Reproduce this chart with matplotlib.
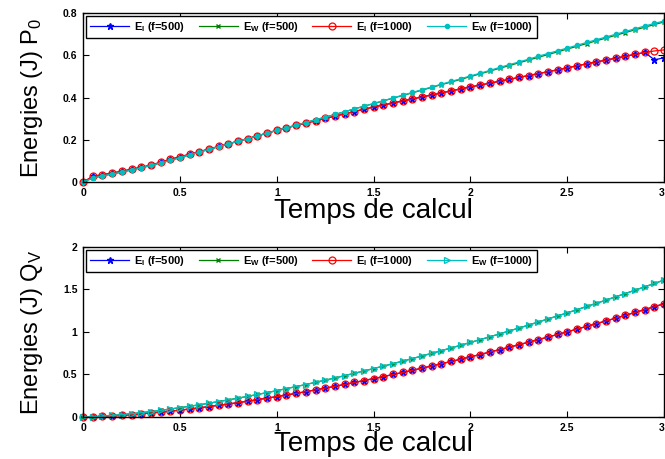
import matplotlib
matplotlib.use("Agg")
import matplotlib.pyplot as plt
import numpy as np
from matplotlib.ticker import FuncFormatter

plt.rcParams['font.family'] = ['Liberation Sans', 'DejaVu Sans']
plt.rcParams['mathtext.fontset'] = 'custom'
plt.rcParams['mathtext.rm'] = 'Liberation Sans'
plt.rcParams['mathtext.bf'] = 'Liberation Sans:bold'
plt.rcParams['mathtext.it'] = 'Liberation Sans:italic'

# time axis (s)
t = [round(0.05 * k, 2) for k in range(61)]

# ---- top panel : P0 ----
p0_EI_500 = [0.000, 0.028, 0.035, 0.044, 0.051, 0.062, 0.070, 0.081, 0.094, 0.108,
             0.120, 0.132, 0.144, 0.157, 0.169, 0.181, 0.194, 0.206, 0.219, 0.232,
             0.245, 0.257, 0.268, 0.279, 0.290, 0.301, 0.312, 0.323, 0.334, 0.345,
             0.355, 0.365, 0.374, 0.384, 0.393, 0.403, 0.412, 0.422, 0.431, 0.441,
             0.450, 0.459, 0.468, 0.477, 0.486, 0.495, 0.504, 0.513, 0.522, 0.531,
             0.540, 0.550, 0.559, 0.568, 0.577, 0.586, 0.595, 0.604, 0.613, 0.578,
             0.588]
p0_EI_1000 = [0.000, 0.028, 0.035, 0.044, 0.051, 0.062, 0.070, 0.081, 0.094, 0.108,
              0.120, 0.132, 0.144, 0.157, 0.169, 0.181, 0.194, 0.206, 0.219, 0.232,
              0.245, 0.257, 0.268, 0.279, 0.290, 0.301, 0.312, 0.323, 0.334, 0.345,
              0.355, 0.365, 0.374, 0.384, 0.393, 0.403, 0.412, 0.422, 0.431, 0.441,
              0.450, 0.459, 0.468, 0.477, 0.486, 0.495, 0.504, 0.513, 0.522, 0.531,
              0.540, 0.550, 0.559, 0.568, 0.577, 0.586, 0.595, 0.604, 0.613, 0.620,
              0.625]
p0_EW_500 = [0.000, 0.020, 0.030, 0.039, 0.048, 0.058, 0.068, 0.079, 0.091, 0.103,
             0.116, 0.129, 0.142, 0.155, 0.168, 0.181, 0.194, 0.206, 0.219, 0.232,
             0.245, 0.257, 0.270, 0.282, 0.295, 0.307, 0.320, 0.333, 0.346, 0.359,
             0.371, 0.384, 0.397, 0.410, 0.422, 0.435, 0.448, 0.461, 0.473, 0.486,
             0.499, 0.512, 0.525, 0.538, 0.551, 0.564, 0.577, 0.590, 0.603, 0.616,
             0.629, 0.642, 0.655, 0.668, 0.681, 0.694, 0.707, 0.720, 0.732, 0.745,
             0.757]
p0_EW_1000 = [0.000, 0.020, 0.030, 0.039, 0.048, 0.058, 0.068, 0.079, 0.091, 0.103,
              0.116, 0.129, 0.142, 0.155, 0.168, 0.181, 0.194, 0.206, 0.219, 0.232,
              0.245, 0.257, 0.270, 0.282, 0.295, 0.307, 0.320, 0.333, 0.346, 0.359,
              0.372, 0.385, 0.398, 0.411, 0.424, 0.437, 0.450, 0.463, 0.476, 0.489,
              0.502, 0.515, 0.528, 0.542, 0.555, 0.568, 0.581, 0.595, 0.608, 0.621,
              0.634, 0.647, 0.660, 0.673, 0.686, 0.699, 0.712, 0.725, 0.738, 0.750,
              0.762]

# ---- bottom panel : Qv ----
qv_EI_500 = [0.000, 0.002, 0.007, 0.012, 0.019, 0.028, 0.037, 0.047, 0.057, 0.069,
             0.081, 0.094, 0.108, 0.123, 0.138, 0.153, 0.169, 0.186, 0.204, 0.222,
             0.240, 0.259, 0.278, 0.298, 0.319, 0.340, 0.361, 0.383, 0.406, 0.429,
             0.452, 0.475, 0.500, 0.524, 0.549, 0.575, 0.600, 0.627, 0.653, 0.680,
             0.708, 0.735, 0.764, 0.792, 0.821, 0.850, 0.880, 0.910, 0.940, 0.971,
             1.002, 1.034, 1.066, 1.098, 1.130, 1.163, 1.196, 1.230, 1.263, 1.298,
             1.332]
qv_EI_1000 = list(qv_EI_500)
qv_EW_500 = [0.000, 0.003, 0.010, 0.018, 0.028, 0.039, 0.051, 0.064, 0.078, 0.094,
             0.110, 0.126, 0.144, 0.162, 0.182, 0.201, 0.222, 0.243, 0.265, 0.287,
             0.310, 0.334, 0.358, 0.382, 0.408, 0.433, 0.459, 0.486, 0.514, 0.541,
             0.570, 0.598, 0.627, 0.657, 0.687, 0.718, 0.749, 0.780, 0.812, 0.844,
             0.877, 0.910, 0.943, 0.977, 1.012, 1.046, 1.081, 1.117, 1.153, 1.189,
             1.225, 1.262, 1.300, 1.337, 1.375, 1.414, 1.452, 1.492, 1.531, 1.571,
             1.611]
qv_EW_1000 = list(qv_EW_500)

xticks = [0, 0.5, 1, 1.5, 2, 2.5, 3]
yticks_top = [0, 0.2, 0.4, 0.6, 0.8]
yticks_bot = [0, 0.5, 1, 1.5, 2]

labels = [r'E$_\mathbf{I}$ (f=500)', r'E$_\mathbf{W}$ (f=500)',
          r'E$_\mathbf{I}$ (f=1000)', r'E$_\mathbf{W}$ (f=1000)']

BLUE = '#0000ff'
GREEN = '#008000'
RED = '#ff0000'
CYAN = '#00bfbf'

fig = plt.figure(figsize=(6.65, 4.59), dpi=100)
ax1 = fig.add_axes([0.125, 0.603, 0.8737, 0.369])
ax2 = fig.add_axes([0.125, 0.0915, 0.8737, 0.3705])

fmt = FuncFormatter(lambda v, p: ('%g' % v))


def style(ax, yticks, ylabel, xlabelpad):
    ax.set_xlim(0, 3)
    ax.set_ylim(yticks[0], yticks[-1])
    ax.set_xticks(xticks)
    ax.set_yticks(yticks)
    ax.xaxis.set_major_formatter(fmt)
    ax.yaxis.set_major_formatter(fmt)
    ax.tick_params(direction='in', top=True, right=True, length=4, width=0.8,
                   labelsize=7.5, pad=4)
    for lab in ax.get_xticklabels() + ax.get_yticklabels():
        lab.set_fontweight('bold')
    ax.get_xticklabels()[-1].set_horizontalalignment('right')
    for s in ax.spines.values():
        s.set_linewidth(1.0)
    ax.set_xlabel('Temps de calcul', fontsize=20, labelpad=xlabelpad)
    ax.set_ylabel(ylabel, fontsize=17, labelpad=13)
    leg = ax.legend(loc='upper left', ncol=4, frameon=True,
                    fancybox=False, edgecolor='black', framealpha=1,
                    handlelength=3.5, handletextpad=0.45, columnspacing=1.25,
                    borderaxespad=0.3, borderpad=0.35,
                    prop={'weight': 'bold', 'size': 8})
    leg.get_frame().set_linewidth(1.0)


lw = 0.9
ax1.plot(t, p0_EI_500, color=BLUE, marker='*', ms=4.5, lw=lw, label=labels[0])
ax1.plot(t, p0_EW_500, color=GREEN, marker='x', ms=3.5, lw=lw, label=labels[1])
ax1.plot(t, p0_EI_1000, color=RED, marker='o', ms=5, mfc='none', mew=0.9, lw=lw, label=labels[2])
ax1.plot(t, p0_EW_1000, color=CYAN, marker='.', ms=6, lw=lw, label=labels[3])
style(ax1, yticks_top, r'Energies (J) P$_0$', 0)

ax2.plot(t, qv_EI_500, color=BLUE, marker='*', ms=4.5, lw=lw, label=labels[0])
ax2.plot(t, qv_EW_500, color=GREEN, marker='x', ms=3.5, lw=lw, label=labels[1])
ax2.plot(t, qv_EI_1000, color=RED, marker='o', ms=5, mfc='none', mew=0.9, lw=lw, label=labels[2])
ax2.plot(t, qv_EW_1000, color=CYAN, marker='>', ms=5, mfc='none', mew=0.9, lw=lw, label=labels[3])
style(ax2, yticks_bot, r'Energies (J) Q$_\mathrm{V}$', -1)

for ax in (ax1, ax2):
    for line in ax.get_lines():
        line.set_clip_on(False)

fig.savefig('out.png', dpi=100)
